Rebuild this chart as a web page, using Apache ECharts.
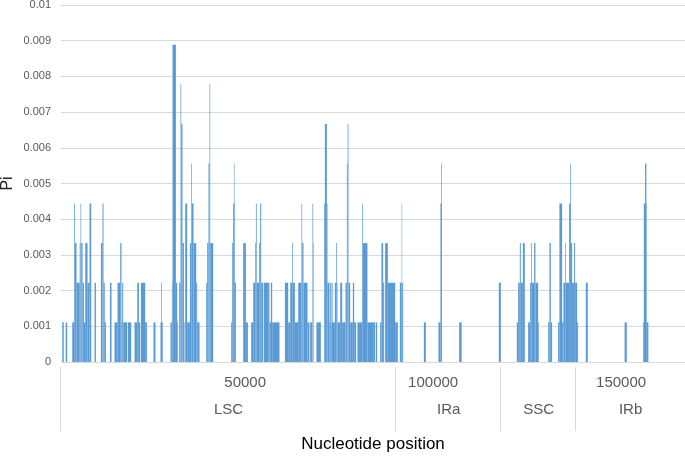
<!DOCTYPE html>
<html>
<head>
<meta charset="utf-8">
<script src="https://cdn.jsdelivr.net/npm/echarts@6/dist/echarts.min.js"></script>
<style>
html,body{margin:0;padding:0;background:#fff;}
#chart{width:685px;height:458px;}
</style>
</head>
<body>
<div id="chart"></div>
<script>
// Sliding-window nucleotide diversity: [windowStart bp, windowEnd bp, Pi]
var lscWindows = [
  [1330,1730,0.00111],[2260,2660,0.00111],[3990,4520,0.00111],[4520,4730,0.00444],
  [4730,5130,0.00333],[5130,5980,0.00222],[5980,6200,0.00333],[6200,6380,0.00444],
  [6380,6730,0.00333],[6730,7100,0.00222],[7100,7450,0.00111],[7450,8060,0.00333],
  [8060,8590,0.00222],[8590,9040,0.00444],[9920,10290,0.00222],[11620,12050,0.00333],
  [12050,12310,0.00444],[12310,12630,0.00222],[12630,12950,0.00111],[14020,14440,0.00222],
  [15240,16040,0.00111],[16040,16760,0.00222],[16760,17100,0.00333],[17100,17290,0.00111],
  [17290,17550,0.00222],[17550,18620,0.00111],[18800,19680,0.00111],[20560,21280,0.00111],
  [21280,21730,0.00222],[21730,22070,0.00111],[22260,23400,0.00222],[23400,23860,0.00111],
  [25610,26140,0.00111],[27470,28060,0.00111],[27660,27850,0.00222],
  [30130,30510,0.00111],[30510,30660,0.00222],[30660,31570,0.00889],[31570,31910,0.00222],
  [31910,32100,0.00111],[32450,32790,0.00222],[32790,32980,0.00778],[32980,33320,0.00667],
  [33320,33700,0.00333],[33700,33860,0.00111],[34040,34570,0.00444],[34570,35290,0.00111],
  [35290,35640,0.00333],[35640,35820,0.00556],[35820,36250,0.00444],[36250,36970,0.00333],
  [36970,37230,0.00222],[37230,37850,0.00111],[39630,39890,0.00222],[39890,40240,0.00333],
  [40240,40510,0.00556],[40510,40690,0.00778],[40690,41490,0.00333],
  [46280,46550,0.00111],[46550,46810,0.00333],[46810,47150,0.00444],[47000,47150,0.00556],
  [47150,47530,0.00222],[49470,50190,0.00333],[50190,50720,0.00111],[51600,52130,0.00111],
  [52130,52660,0.00222],[52660,52850,0.00333],[52850,53060,0.00444],[53060,53720,0.00222],
  [53720,53990,0.00333],[53990,54260,0.00444],[54260,54790,0.00222],[54970,56120,0.00222],
  [56120,56460,0.00222],[56460,56840,0.00111],[56840,57180,0.00222],[57180,59120,0.00111],
  [60560,61440,0.00222],[61440,61970,0.00111],[61970,62500,0.00222],[62500,62690,0.00333],
  [62690,63220,0.00222],[63220,64100,0.00111],[64100,64970,0.00222],[64970,65160,0.00444],
  [65160,65510,0.00333],[65510,66570,0.00222],[66570,67100,0.00111],[67290,67820,0.00111],
  [67900,68090,0.00444],[68090,68220,0.00333],[68960,70130,0.00111],[71010,71200,0.00444],
  [71200,71730,0.00667],[71730,71890,0.00444],[71890,72420,0.00222],[72420,72610,0.00111],
  [72610,72950,0.00222],[72950,73860,0.00111],[73140,73300,0.00222],[73860,74200,0.00222],
  [74200,74390,0.00333],[74390,74550,0.00222],[74550,75270,0.00111],[75270,75800,0.00222],
  [75800,76680,0.00111],[76680,77050,0.00222],[77050,77260,0.00556],[77260,77470,0.00667],
  [77470,77930,0.00222],[77930,78640,0.00111],[78640,78990,0.00222],[78990,79520,0.00111],
  [79870,81120,0.00111],[81120,81300,0.00444],[81300,82530,0.00333],[82530,84040,0.00111],
  [84040,84570,0.00111],[84760,85110,0.00111],[85900,86250,0.00111],[86250,86700,0.00333],
  [86700,86970,0.00222],[87230,87950,0.00333],[87950,89890,0.00222],[89890,90610,0.00111]
];
var iraWindows = [
  [91140,91620,0.00222],[91620,91760,0.00444],[91760,92020,0.00222],[97530,98060,0.00111],
  [101410,101940,0.00111],[101940,102310,0.00444],[102130,102310,0.00556],
  [106910,107580,0.00111],[117470,118010,0.00222]
];
var sscWindows = [
  [122260,122610,0.00111],[122610,123060,0.00222],[123060,123320,0.00333],[123320,123860,0.00222],
  [123860,124390,0.00333],[125270,125800,0.00111],[125800,126060,0.00222],[126060,126250,0.00333],
  [126250,126860,0.00222],[126860,127210,0.00333],[127210,127930,0.00222],[127930,128110,0.00111],
  [130590,130930,0.00111],[130930,131300,0.00333],[131300,131650,0.00111],[133240,133590,0.00111],
  [133590,134310,0.00444],[134310,134650,0.00111],[134650,135110,0.00222],[135110,135290,0.00333],
  [135290,136170,0.00222],[136170,136570,0.00444],[136440,136620,0.00556],[136570,136970,0.00333],
  [136970,137500,0.00222],[137500,137770,0.00333],[137770,138300,0.00222],[138300,138560,0.00111]
];
var irbWindows = [
  [140610,141140,0.00222],[150930,151510,0.00111],[155850,156040,0.00111],
  [156040,156730,0.00444],[156380,156730,0.00556],[156730,157260,0.00111]
];
// Genome regions (bp)
var regionNames = ['LSC','IRa','SSC','IRb'];
var regionStarts = [1000, 90160, 118090, 138030];
var regionEnds = [90160, 118090, 138030, 167000];
// Axis tick labels
var xTickLabels = [50000, 100000, 150000];

var X_MIN = 1000, X_MAX = 167000;
var BAR = '#5b9bd5';
var FONT = '"Liberation Sans", Arial, sans-serif';

var allWindows = lscWindows.concat(iraWindows, sscWindows, irbWindows);
var regionData = regionNames.map(function(n,i){ return [regionStarts[i], regionEnds[i]]; });

var chart = echarts.init(document.getElementById('chart'), null, {renderer:'canvas'});
chart.setOption({
  animation: false,
  backgroundColor: '#ffffff',
  grid: [
    {left: 61, right: 0, top: 5, bottom: 96, outerBoundsMode: 'none', containLabel: false},
    {left: 61, right: 0, top: 367, height: 64, outerBoundsMode: 'none', containLabel: false}
  ],
  graphic: [
    {type: 'text', x: 8, y: 183.5, rotation: Math.PI / 2,
     style: {text: 'Pi', font: '16px ' + FONT, fill: '#262626', align: 'center', verticalAlign: 'middle'}}
  ],
  xAxis: [
    {
      type: 'value', gridIndex: 0, min: X_MIN, max: X_MAX,
      axisLine: {show: false}, axisTick: {show: false}, splitLine: {show: false},
      axisLabel: {
        customValues: xTickLabels, margin: 13,
        fontFamily: FONT, fontSize: 15, color: '#595959',
        formatter: function(v){ return String(v); }
      }
    },
    {
      type: 'value', gridIndex: 1, min: X_MIN, max: X_MAX,
      axisLine: {show: false}, axisTick: {show: false}, splitLine: {show: false},
      axisLabel: {show: false},
      name: 'Nucleotide position', nameLocation: 'middle', nameGap: 5,
      nameTextStyle: {fontFamily: FONT, fontSize: 17, color: '#000000'}
    }
  ],
  yAxis: [
    {
      type: 'value', gridIndex: 0, min: 0, max: 0.01, interval: 0.001,
      axisLine: {show: false}, axisTick: {show: false},
      splitLine: {show: true, lineStyle: {color: '#d9d9d9', width: 1}},
      axisLabel: {
        fontFamily: FONT, fontSize: 11, color: '#595959', margin: 10,
        formatter: function(v){ return String(+v.toFixed(3)); }
      }
    },
    {
      type: 'value', gridIndex: 1, min: 0, max: 1,
      axisLine: {show: false}, axisTick: {show: false}, splitLine: {show: false},
      axisLabel: {show: false}
    }
  ],
  series: [
    {
      type: 'custom', xAxisIndex: 0, yAxisIndex: 0,
      data: allWindows,
      encode: {x: [0, 1], y: 2},
      renderItem: function(params, api){
        var s = api.coord([api.value(0), api.value(2)]);
        var e = api.coord([api.value(1), 0]);
        return {
          type: 'rect',
          shape: {x: s[0], y: s[1], width: e[0] - s[0], height: e[1] - s[1]},
          style: {fill: BAR}
        };
      }
    },
    {
      type: 'custom', xAxisIndex: 1, yAxisIndex: 1,
      data: regionData,
      encode: {x: [0, 1]},
      clip: false,
      renderItem: function(params, api){
        var a = api.coord([api.value(0), 1]);
        var b = api.coord([api.value(1), 0]);
        var mid = api.coord([(api.value(0) + api.value(1)) / 2, 0.33]);
        return {
          type: 'group',
          children: [
            {type: 'line', shape: {x1: Math.round(a[0]) - 0.5, y1: a[1], x2: Math.round(a[0]) - 0.5, y2: b[1]},
             style: {stroke: '#d9d9d9', lineWidth: 1}},
            {type: 'text', x: mid[0], y: mid[1],
             style: {text: regionNames[params.dataIndex], fill: '#595959', font: '15px ' + FONT, align: 'center', verticalAlign: 'middle'}}
          ]
        };
      }
    }
  ]
});
</script>
</body>
</html>
